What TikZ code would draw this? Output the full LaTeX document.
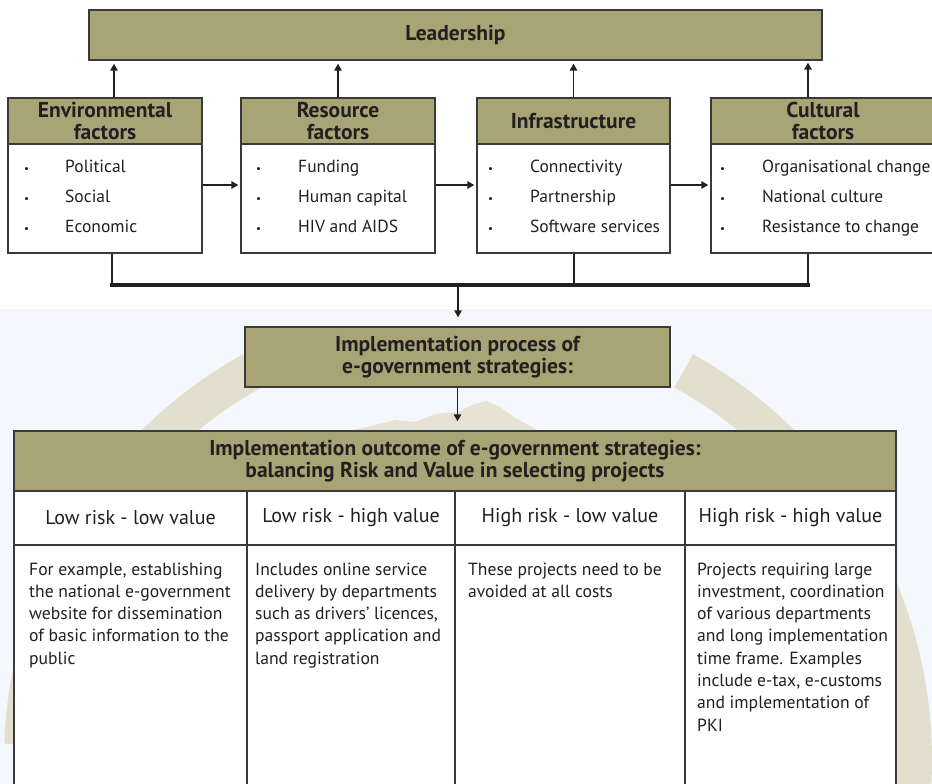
\documentclass[tikz,border=0pt]{standalone}
\usepackage{fontspec}
\setmainfont{PT Sans}
\usetikzlibrary{arrows.meta,calc}

\definecolor{hdrfill}{HTML}{A8A476}
\definecolor{ink}{HTML}{231F20}
\definecolor{edge}{HTML}{3A3A3A}
\definecolor{paleblue}{HTML}{F4F8FC}
\definecolor{ringtan}{HTML}{E2DFCE}
\definecolor{hilltan}{HTML}{E6E3D5}

\tikzset{
  hdr/.style={draw=edge, line width=1.4pt, fill=hdrfill, inner sep=0pt,
    font=\fontsize{21.5}{22.5}\selectfont\bfseries, align=center, text=ink},
  bodybox/.style={draw=edge, line width=1.4pt, fill=white, inner sep=0pt},
  item/.style={inner sep=0pt, anchor=base west, font=\fontsize{17.5}{20}\selectfont, text=ink},
  dot/.style={inner sep=0pt, anchor=base west, font=\fontsize{11}{13}\selectfont, text=ink},
  colhead/.style={draw=edge, line width=1.4pt, fill=white, inner sep=0pt,
    font=\fontsize{20}{22}\selectfont, text=ink},
  coltext/.style={inner sep=0pt, anchor=base west, align=left,
    font=\fontsize{17.6}{22.3}\selectfont, text=ink},
  arr/.style={draw=ink, line width=1.6pt, -{Triangle[length=7pt,width=7.5pt]}},
  link/.style={draw=ink, line width=1.8pt},
  bus/.style={draw=ink, line width=3.2pt, line cap=rect},
}

\begin{document}
\begin{tikzpicture}[x=1pt,y=-1pt]
\useasboundingbox (0,0) rectangle (932,784);
\clip (0,0) rectangle (932,784);

% page background: white top, pale blue lower panel
\fill[white] (0,0) rectangle (932,784);
\fill[paleblue] (0,309) rectangle (932,784);

% faint emblem behind the lower panel
\draw[ringtan, line width=38pt] plot[smooth, domain=178:119, samples=40]
  ({468+445*cos(\x)},{760-445*sin(\x)});
\draw[ringtan, line width=38pt] plot[smooth, domain=61:-4, samples=40]
  ({468+445*cos(\x)},{760-445*sin(\x)});
\fill[hilltan] (350,431) -- (375,425) -- (395,420) -- (415,422) -- (435,414)
  -- (458,412) -- (474,404) -- (487,401) -- (500,407) -- (512,416) -- (528,425)
  -- (540,431) -- cycle;

% top block
\node[hdr, minimum width=733pt, minimum height=50pt] (lead) at (455.5,35) {Leadership};

% factor boxes: header + list body
\node[hdr, minimum width=194pt, minimum height=46pt] (envh) at (105,121) {Environmental\\factors};
\node[bodybox, minimum width=194pt, minimum height=109pt] (envb) at (105,198.5) {};
\node[hdr, minimum width=194pt, minimum height=46pt] (resh) at (338,121) {Resource\\factors};
\node[bodybox, minimum width=194pt, minimum height=109pt] (resb) at (338,198.5) {};
\node[hdr, minimum width=193pt, minimum height=46pt] (infh) at (573.5,121) {Infrastructure};
\node[bodybox, minimum width=193pt, minimum height=109pt] (infb) at (573.5,198.5) {};
\node[hdr, minimum width=224pt, minimum height=46pt] (culh) at (823,121) {Cultural\\factors};
\node[bodybox, minimum width=224pt, minimum height=109pt] (culb) at (823,198.5) {};

% bullet lists
\foreach \t [count=\i] in {Political,Social,Economic} {
  \node[dot] (envd\i) at (24,142+30*\i) {•};
  \node[item] (envt\i) at (65,142+30*\i) {\t};
}
\foreach \t [count=\i] in {Funding,Human capital,HIV and AIDS} {
  \node[dot] (resd\i) at (256,142+30*\i) {•};
  \node[item] (rest\i) at (298,142+30*\i) {\t};
}
\foreach \t [count=\i] in {Connectivity,Partnership,Software services} {
  \node[dot] (infd\i) at (488,142+30*\i) {•};
  \node[item] (inft\i) at (530,142+30*\i) {\t};
}
\foreach \t [count=\i] in {Organisational change,National culture,Resistance to change} {
  \node[dot] (culd\i) at (720,142+30*\i) {•};
  \node[item] (cult\i) at (762,142+30*\i) {\t};
}

% links up to leadership
\draw[arr, shorten >=3pt] ([xshift=9pt]envh.north) -- ([xshift=9pt]envh.north |- lead.south);
\draw[arr, shorten >=3pt] (resh.north) -- (resh.north |- lead.south);
\draw[arr, shorten >=3pt] (infh.north) -- (infh.north |- lead.south);
\draw[arr, shorten >=2pt] ([xshift=-15pt]culh.north) -- ([xshift=-15pt]culh.north |- lead.south);

% links across the factors
\draw[arr, shorten >=2pt] ([yshift=13.5pt]envb.east) -- ([yshift=13.5pt]envb.east -| resb.west);
\draw[arr, shorten >=2pt] ([yshift=13.5pt]resb.east) -- ([yshift=13.5pt]resb.east -| infb.west);
\draw[arr, shorten >=2pt] ([yshift=13.5pt]infb.east) -- ([yshift=13.5pt]infb.east -| culb.west);

% collecting bus
\coordinate (hub) at (458,285);
\draw[link] ([xshift=7pt]envb.south) -- ([xshift=7pt]envb.south |- hub);
\draw[link] ([xshift=0.5pt]infb.south) -- ([xshift=0.5pt]infb.south |- hub);
\draw[link] ([xshift=-15pt]culb.south) -- ([xshift=-15pt]culb.south |- hub);
\draw[bus] ([xshift=7pt]envb.south |- hub) -- ([xshift=-15pt]culb.south |- hub);

% process and outcome
\node[hdr, minimum width=425pt, minimum height=60pt] (proc) at (457.5,357)
  {Implementation process of\\e-government strategies:};
\draw[arr, shorten >=9pt] (hub) -- (hub |- proc.north);

\node[hdr, minimum width=882pt, minimum height=60pt] (outh) at (455,461)
  {Implementation outcome of e-government strategies:\\balancing Risk and Value in selecting projects};
\draw[arr, shorten >=9pt] (proc.south) -- (proc.south |- outh.north);

% risk/value columns
\node[colhead, minimum width=233pt, minimum height=54pt] (l1) at (130.5,518) {Low risk - low value};
\node[colhead, minimum width=208pt, minimum height=54pt] (l2) at (351,518) {Low risk - high value};
\node[colhead, minimum width=230pt, minimum height=54pt] (l3) at (570,518) {High risk - low value};
\node[colhead, minimum width=211pt, minimum height=54pt] (l4) at (790.5,518) {High risk - high value};

\node[bodybox, minimum width=233pt, minimum height=265pt] (b1) at (130.5,677.5) {};
\node[bodybox, minimum width=208pt, minimum height=265pt] (b2) at (351,677.5) {};
\node[bodybox, minimum width=230pt, minimum height=265pt] (b3) at (570,677.5) {};
\node[bodybox, minimum width=211pt, minimum height=265pt] (b4) at (790.5,677.5) {};

% cell texts, each placed by the baseline of its last line
\node[coltext] (t1) at (29,664.2) {For example, establishing\\the national e-government\\website for dissemination\\of basic information to the\\public};
\node[coltext] (t2) at (255,664.2) {Includes online service\\delivery by departments\\such as drivers’ licences,\\passport application and\\land registration};
\node[coltext] (t3) at (468,597.3) {These projects need to be\\avoided at all costs};
\node[coltext] (t4) at (697,731.1) {Projects requiring large\\investment, coordination\\of various departments\\and long implementation\\time frame. Examples\\include e-tax, e-customs\\and implementation of\\PKI};
\end{tikzpicture}
\end{document}
